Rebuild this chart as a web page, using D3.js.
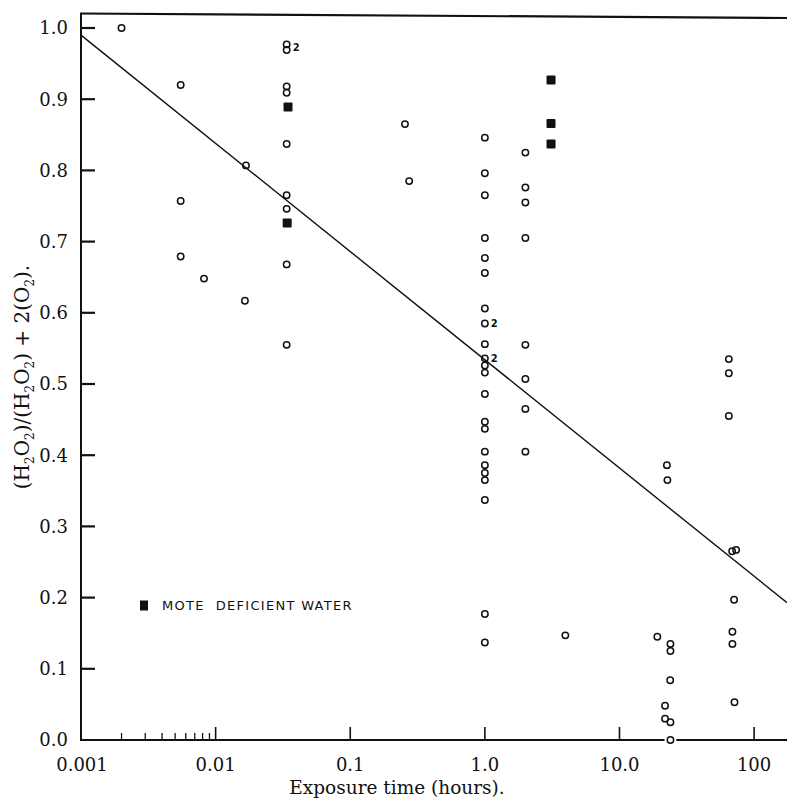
<!DOCTYPE html>
<html>
<head>
<meta charset="utf-8">
<script src="https://cdn.jsdelivr.net/npm/d3@7/dist/d3.min.js"></script>
<style>
  html, body { margin: 0; padding: 0; background: #fff; }
  svg { display: block; }
</style>
</head>
<body>
<svg id="chart" width="787" height="801"></svg>
<script>
// Exposure time (hours) and ratio for ordinary-water runs (open circles)
const circleTime = [
  0.002,
  0.0055, 0.0055, 0.0055,
  0.0082,
  0.0168, 0.0165,
  0.0337, 0.0337, 0.0337, 0.0337, 0.0337, 0.0337, 0.0337, 0.0337, 0.0337,
  0.255, 0.274,
  1.0, 1.0, 1.0, 1.0, 1.0, 1.0, 1.0, 1.0, 1.0, 1.0, 1.0, 1.0, 1.0, 1.0, 1.0,
  1.0, 1.0, 1.0, 1.0, 1.0, 1.0, 1.0,
  2.0, 2.0, 2.0, 2.0, 2.0, 2.0, 2.0, 2.0,
  3.96,
  19.1, 22.5, 22.7, 23.9, 23.9, 23.8, 21.8, 21.8, 23.9, 23.9,
  64.9, 64.9, 64.9, 68.7, 73.5, 71, 69, 69, 71.5
];
const circleValue = [
  1.0,
  0.92, 0.757, 0.679,
  0.648,
  0.807, 0.617,
  0.977, 0.969, 0.918, 0.909, 0.837, 0.765, 0.746, 0.668, 0.555,
  0.865, 0.785,
  0.846, 0.796, 0.765, 0.705, 0.677, 0.656, 0.606, 0.585, 0.556, 0.536, 0.526, 0.516, 0.486, 0.447, 0.437,
  0.405, 0.386, 0.375, 0.365, 0.337, 0.177, 0.137,
  0.825, 0.776, 0.755, 0.705, 0.555, 0.507, 0.465, 0.405,
  0.147,
  0.145, 0.386, 0.365, 0.135, 0.125, 0.084, 0.048, 0.030, 0.025, 0.0,
  0.535, 0.515, 0.455, 0.265, 0.267, 0.197, 0.152, 0.135, 0.053
];

// Mote deficient water runs (filled squares)
const squareTime  = [0.0345, 0.0340, 3.1, 3.1, 3.1];
const squareValue = [0.889, 0.726, 0.927, 0.866, 0.837];

// Points that stand for two coincident runs
const pairTime  = [0.0337, 1.0, 1.0];
const pairValue = [0.973, 0.585, 0.536];

// Fitted line: ratio at 1 hour and change per decade of exposure time
const fitAtOneHour = 0.534;
const fitPerDecade = -0.152;

// Axis ticks
const xMajorTicks  = [0.001, 0.01, 0.1, 1, 10, 100];
const xTickLabels  = ["0.001", "0.01", "0.1", "1.0", "10.0", "100"];
const xMinorTicks  = [0.002, 0.003, 0.004, 0.005, 0.006, 0.007, 0.008, 0.009];
const yTicks       = [0, 0.1, 0.2, 0.3, 0.4, 0.5, 0.6, 0.7, 0.8, 0.9, 1.0];

const legendLabel = "MOTE  DEFICIENT WATER";

// ---- layout ----
const plotLeft = 81, plotRight = 787, plotTop = 28, plotBottom = 740;
const svg = d3.select("#chart");
const serif = "'DejaVu Serif', serif";
const ink = "#111";

const x = d3.scaleLog().domain([0.001, 175.5]).range([plotLeft, plotRight]);
const y = d3.scaleLinear().domain([0, 1]).range([plotBottom, plotTop]);

const circles = circleTime.map((t, i) => ({ t, v: circleValue[i] }));
const squares = squareTime.map((t, i) => ({ t, v: squareValue[i] }));
const pairs = pairTime.map((t, i) => ({ t, v: pairValue[i] }));

// frame: top rule and left axis
svg.append("line")
  .attr("x1", plotLeft - 1).attr("x2", plotRight)
  .attr("y1", 13.5).attr("y2", 18)
  .attr("stroke", ink).attr("stroke-width", 2.2);
svg.append("line")
  .attr("x1", plotLeft).attr("x2", plotLeft)
  .attr("y1", 13).attr("y2", plotBottom + 1)
  .attr("stroke", ink).attr("stroke-width", 2);

// bottom axis line
svg.append("line")
  .attr("x1", plotLeft - 1).attr("x2", plotRight)
  .attr("y1", plotBottom).attr("y2", plotBottom)
  .attr("stroke", ink).attr("stroke-width", 2);

// y ticks point inward from the left axis
svg.append("g").selectAll("line").data(yTicks.filter(d => d > 0)).join("line")
  .attr("x1", plotLeft).attr("x2", plotLeft + 14)
  .attr("y1", d => y(d)).attr("y2", d => y(d))
  .attr("stroke", ink).attr("stroke-width", 2.2);

svg.append("g").selectAll("text").data(yTicks).join("text")
  .attr("x", 68).attr("y", d => y(d))
  .attr("dy", "0.36em")
  .attr("text-anchor", "end")
  .attr("font-family", serif).attr("font-size", 18).attr("fill", ink)
  .text(d => d3.format(".1f")(d));

// x ticks point up from the baseline
svg.append("g").selectAll("line").data(xMajorTicks.slice(1)).join("line")
  .attr("x1", d => x(d)).attr("x2", d => x(d))
  .attr("y1", plotBottom).attr("y2", plotBottom - 13)
  .attr("stroke", ink).attr("stroke-width", 1.6);

svg.append("g").selectAll("line").data(xMinorTicks).join("line")
  .attr("x1", d => x(d)).attr("x2", d => x(d))
  .attr("y1", plotBottom).attr("y2", plotBottom - 7)
  .attr("stroke", ink).attr("stroke-width", 1.3);

svg.append("g").selectAll("text").data(xMajorTicks).join("text")
  .attr("x", (d, i) => x(d) + (i === 0 ? 1 : 0)).attr("y", 771)
  .attr("text-anchor", "middle")
  .attr("font-family", serif).attr("font-size", 18).attr("fill", ink)
  .text((d, i) => xTickLabels[i]);

// axis titles
svg.append("text")
  .attr("x", 397).attr("y", 794)
  .attr("text-anchor", "middle")
  .attr("font-family", serif).attr("font-size", 18.5).attr("fill", ink)
  .text("Exposure time (hours).");

const yTitle = svg.append("text")
  .attr("transform", "translate(29,377) rotate(-90)")
  .attr("text-anchor", "middle")
  .attr("font-family", serif).attr("font-size", 20).attr("fill", ink);
const titleParts = [
  ["(H", 0], ["2", 1], ["O", 0], ["2", 1], [")/(H", 0], ["2", 1], ["O", 0], ["2", 1],
  [") + 2(O", 0], ["2", 1], [").", 0]
];
let lowered = false;
titleParts.forEach(([s, sub]) => {
  const dy = sub && !lowered ? 5 : (!sub && lowered ? -5 : 0);
  lowered = !!sub;
  yTitle.append("tspan")
    .attr("dy", dy)
    .attr("font-size", sub ? 12 : 20)
    .text(s);
});

// fitted line across the full time range
const fit = t => fitAtOneHour + fitPerDecade * Math.log10(t);
const fitDomain = x.domain();
svg.append("line")
  .attr("x1", x(fitDomain[0])).attr("y1", y(fit(fitDomain[0])))
  .attr("x2", x(fitDomain[1])).attr("y2", y(fit(fitDomain[1])))
  .attr("stroke", ink).attr("stroke-width", 1.4);

// a run lying on the baseline breaks the axis rule
svg.append("g").selectAll("circle").data(circles.filter(d => d.v === 0)).join("circle")
  .attr("cx", d => x(d.t)).attr("cy", d => y(d.v)).attr("r", 6)
  .attr("fill", "#fff");

// open circles
svg.append("g").selectAll("circle").data(circles).join("circle")
  .attr("cx", d => x(d.t)).attr("cy", d => y(d.v)).attr("r", 3.2)
  .attr("fill", "none").attr("stroke", ink).attr("stroke-width", 1.5);

// filled squares
const sq = 9;
svg.append("g").selectAll("rect").data(squares).join("rect")
  .attr("x", d => x(d.t) - sq / 2).attr("y", d => y(d.v) - sq / 2)
  .attr("width", sq).attr("height", sq)
  .attr("rx", 1)
  .attr("fill", ink);

// "2" marks beside doubled points
svg.append("g").selectAll("text").data(pairs).join("text")
  .attr("x", d => x(d.t) + 6).attr("y", d => y(d.v) + 4)
  .attr("font-family", "'DejaVu Sans', sans-serif").attr("font-size", 10)
  .attr("font-weight", "bold").attr("fill", ink)
  .text("2");

// legend
const legendY = 605.5;
svg.append("rect")
  .attr("x", 140).attr("y", legendY - 5).attr("width", 8).attr("height", 10)
  .attr("fill", ink);
svg.append("text")
  .attr("x", 162).attr("y", legendY).attr("dy", "0.36em")
  .attr("font-family", "'DejaVu Sans', sans-serif").attr("font-size", 13)
  .attr("letter-spacing", 1.3)
  .attr("xml:space", "preserve")
  .style("white-space", "pre")
  .attr("fill", ink)
  .text(legendLabel);
</script>
</body>
</html>
